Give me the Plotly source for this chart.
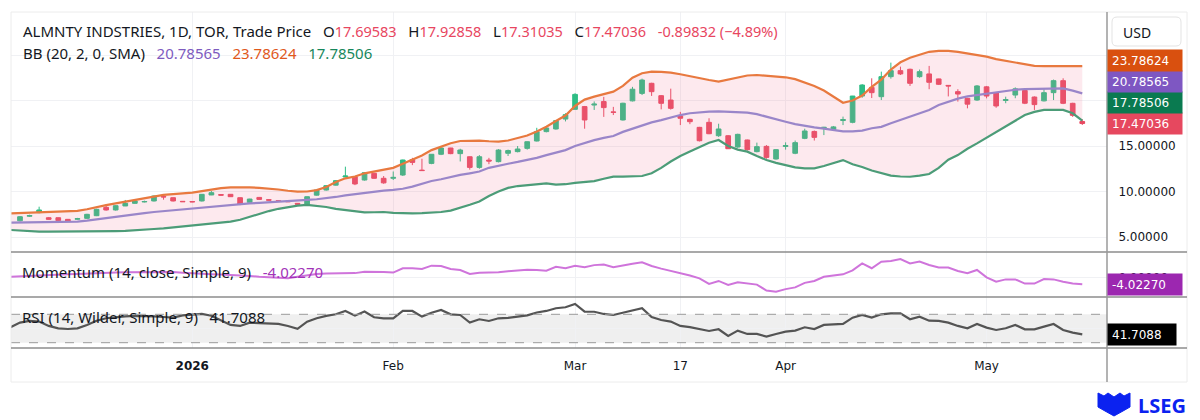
import plotly.graph_objects as go

# ---------------- data ----------------
def _days(ym, days):
    return [f"{ym}-{d:02d}" for d in days]

dates = (_days("2025-12", [3, 4, 5, 8, 9, 10, 11, 12, 15, 16, 17, 18, 19, 22, 23, 24, 29, 30, 31])
         + _days("2026-01", [2, 5, 6, 7, 8, 9, 12, 13, 14, 15, 16, 19, 20, 21, 22, 23, 26, 27, 28, 29, 30])
         + _days("2026-02", [2, 3, 4, 5, 6, 9, 10, 11, 12, 13, 17, 18, 19, 20, 23, 24, 25, 26, 27])
         + _days("2026-03", [2, 3, 4, 5, 6, 9, 10, 11, 12, 13, 16, 17, 18, 19, 20, 23, 24, 25, 26, 27, 30, 31])
         + _days("2026-04", [1, 2, 6, 7, 8, 9, 10, 13, 14, 15, 16, 17, 20, 21, 22, 23, 24, 27, 28, 29, 30])
         + _days("2026-05", [1, 4, 5, 6, 7, 8, 11, 12, 13, 14, 15]))

# candles start on 2025-12-04 (dates[1:])
opens = [6.78, 7.28, 7.68, 7.12, 7.12, 6.94, 6.95, 7.05, 7.34, 8.26, 7.97, 8.41, 8.70, 8.85, 8.96, 9.45, 9.32, 8.92, 8.90, 8.96,
         9.62, 9.66, 9.69, 9.32, 8.81, 9.35, 9.10, 8.98, 8.92, 8.70, 8.52, 9.60, 10.16, 10.70, 11.60, 11.63, 11.26, 12.00, 11.45, 11.45,
         11.81, 13.50, 12.35, 13.09, 14.09, 14.78, 14.16, 13.82, 12.65, 13.45, 13.28, 14.20, 14.38, 14.74, 15.55, 16.58, 16.87, 17.96, 19.03, 19.33,
         19.50, 19.88, 18.75, 17.86, 19.96, 20.78, 21.89, 20.53, 20.05, 18.30, 17.93, 17.05, 17.60, 16.13, 16.13, 14.89, 15.66, 14.38, 14.96, 13.57,
         14.95, 14.20, 15.84, 16.60, 16.95, 16.82, 17.80, 17.60, 20.49, 21.44, 20.42, 22.62, 23.28, 23.43, 22.62, 22.92, 22.37, 21.66, 20.97, 20.24,
         20.05, 21.50, 20.86, 20.00, 20.60, 21.10, 20.38, 19.96, 20.86, 22.18, 19.69, 17.69583]
highs = [7.30, 7.45, 8.33, 7.20, 7.15, 6.98, 7.10, 7.55, 8.10, 8.60, 8.50, 9.07, 9.00, 9.00, 9.55, 9.60, 9.35, 8.95, 8.95, 9.72,
         10.05, 9.70, 9.72, 9.35, 9.20, 9.40, 9.15, 9.00, 8.95, 8.72, 9.45, 10.20, 10.70, 11.25, 12.73, 11.65, 12.10, 12.05, 11.70, 12.20,
         13.50, 13.70, 13.60, 14.10, 14.85, 14.80, 14.70, 13.85, 14.00, 13.70, 14.65, 14.60, 15.00, 15.50, 17.00, 17.10, 17.85, 18.60, 20.80, 19.40,
         19.90, 20.40, 19.30, 19.75, 21.50, 22.40, 21.95, 20.60, 21.30, 18.75, 18.00, 17.10, 18.05, 17.45, 16.20, 16.35, 15.70, 15.37, 15.10, 14.65,
         15.40, 15.60, 16.90, 16.70, 17.10, 17.20, 18.23, 20.50, 21.80, 22.44, 23.17, 24.16, 23.72, 23.50, 23.40, 23.80, 22.40, 21.70, 21.24, 20.30,
         21.70, 21.60, 20.90, 20.42, 21.44, 21.20, 20.45, 21.24, 22.30, 22.44, 19.75, 17.92858]
lows = [6.70, 7.20, 7.60, 6.90, 6.75, 6.65, 6.90, 7.00, 7.30, 7.90, 7.90, 8.40, 8.65, 8.80, 8.90, 9.10, 8.90, 8.85, 8.82, 8.90,
        9.60, 9.55, 9.40, 8.50, 8.78, 9.10, 9.00, 8.90, 8.85, 8.55, 8.50, 9.55, 10.10, 10.65, 11.58, 10.70, 11.20, 11.40, 10.85, 11.26,
        11.70, 12.90, 12.28, 13.00, 14.00, 14.10, 13.30, 12.40, 12.50, 13.00, 13.20, 13.90, 14.30, 14.60, 15.50, 16.50, 16.80, 17.70, 19.00, 16.90,
        18.96, 18.20, 18.40, 17.80, 19.90, 20.60, 20.50, 19.03, 19.00, 17.30, 17.40, 15.50, 16.30, 16.00, 14.70, 14.80, 14.50, 14.30, 13.60, 13.50,
        14.60, 14.10, 15.75, 15.60, 16.20, 16.70, 17.30, 17.50, 20.30, 20.27, 20.05, 22.40, 22.80, 21.60, 22.50, 21.24, 21.70, 20.45, 19.88, 19.14,
        19.96, 20.24, 19.20, 19.70, 20.25, 19.60, 18.96, 19.90, 20.05, 19.60, 18.20, 17.31035]
closes = [7.23, 7.36, 7.97, 6.94, 6.80, 6.70, 7.02, 7.49, 8.04, 7.97, 8.44, 8.70, 8.96, 8.90, 9.50, 9.40, 8.96, 8.88, 8.86, 9.69,
          9.87, 9.60, 9.43, 8.59, 9.17, 9.13, 9.05, 8.94, 8.88, 8.60, 9.43, 10.16, 10.64, 11.19, 11.70, 10.83, 12.07, 11.45, 10.95, 11.55,
          13.46, 13.20, 12.30, 14.09, 14.78, 14.16, 14.56, 12.65, 13.82, 13.35, 14.56, 14.50, 14.67, 15.47, 16.57, 16.98, 17.78, 18.44, 20.67, 17.86,
          19.60, 19.22, 18.70, 19.70, 21.24, 22.25, 20.97, 19.69, 19.14, 18.05, 17.67, 15.58, 16.35, 16.87, 14.70, 16.28, 14.60, 14.93, 13.75, 14.60,
          15.05, 15.37, 16.65, 15.95, 17.05, 17.10, 17.90, 20.49, 21.70, 20.86, 22.62, 23.28, 22.92, 21.89, 23.17, 22.00, 21.78, 21.60, 20.71, 19.60,
          21.60, 20.49, 19.40, 20.10, 21.28, 19.70, 19.55, 20.86, 22.18, 19.69, 18.36868, 17.47036]

# Bollinger bands (20, 2) from 2025-12-03
bb_upper = [7.60, 7.65, 7.68, 7.70, 7.73, 7.77, 7.82, 7.88, 8.05, 8.30, 8.50, 8.70, 8.88, 9.07, 9.30, 9.50, 9.62, 9.72, 9.80, 9.87,
            10.05, 10.25, 10.38, 10.45, 10.47, 10.45, 10.40, 10.34, 10.22, 10.08, 9.98, 10.00, 10.15, 10.50, 11.05, 11.45, 11.65, 12.00, 12.20, 12.35,
            12.60, 13.05, 13.46, 13.95, 14.55, 14.95, 15.30, 15.55, 15.60, 15.59, 15.52, 15.48, 15.60, 15.85, 16.15, 16.60, 17.12, 17.75, 18.35, 19.40,
            20.10, 20.42, 20.70, 20.97, 21.60, 22.50, 23.00, 23.17, 23.15, 23.06, 22.88, 22.65, 22.44, 22.25, 22.07, 22.30, 22.55, 22.75, 22.80, 22.70,
            22.62, 22.55, 22.35, 22.00, 21.60, 21.10, 20.40, 19.75, 20.00, 20.55, 21.50, 22.30, 23.40, 24.20, 24.70, 25.00, 25.35, 25.45, 25.45, 25.35,
            25.20, 25.00, 24.82, 24.55, 24.35, 24.12, 23.95, 23.80, 23.78, 23.79, 23.79, 23.78, 23.78624]
bb_middle = [6.58, 6.60, 6.62, 6.63, 6.64, 6.65, 6.66, 6.69, 6.80, 6.95, 7.10, 7.25, 7.38, 7.50, 7.62, 7.75, 7.85, 7.95, 8.05, 8.13,
             8.25, 8.35, 8.45, 8.55, 8.63, 8.70, 8.75, 8.80, 8.86, 8.92, 9.00, 9.08, 9.15, 9.25, 9.40, 9.58, 9.72, 9.85, 9.98, 10.10,
             10.17, 10.30, 10.53, 10.85, 11.15, 11.35, 11.60, 11.82, 12.00, 12.20, 12.60, 12.85, 13.05, 13.25, 13.45, 13.70, 14.00, 14.30, 14.55, 15.00,
             15.35, 15.65, 15.90, 16.10, 16.55, 16.90, 17.25, 17.60, 17.85, 18.15, 18.40, 18.60, 18.70, 18.77, 18.80, 18.78, 18.72, 18.66, 18.50, 18.25,
             17.95, 17.67, 17.40, 17.20, 17.05, 16.90, 16.76, 16.60, 16.60, 16.69, 16.95, 17.10, 17.50, 17.85, 18.20, 18.60, 18.96, 19.50, 19.85, 20.20,
             20.45, 20.60, 20.75, 20.86, 21.05, 21.18, 21.26, 21.30, 21.34, 21.35, 21.34, 21.08, 20.78565]
bb_lower = [5.77, 5.70, 5.60, 5.59, 5.58, 5.58, 5.58, 5.59, 5.59, 5.59, 5.62, 5.65, 5.68, 5.72, 5.80, 5.88, 5.95, 6.05, 6.18, 6.30,
            6.40, 6.50, 6.60, 6.69, 6.90, 7.24, 7.55, 7.85, 8.10, 8.30, 8.45, 8.52, 8.45, 8.30, 8.10, 7.97, 7.85, 7.71, 7.72, 7.75,
            7.65, 7.60, 7.60, 7.62, 7.65, 7.75, 7.90, 8.20, 8.55, 8.90, 9.50, 10.00, 10.40, 10.60, 10.70, 10.85, 10.90, 10.75, 10.80, 10.95,
            11.05, 11.15, 11.40, 11.63, 11.63, 11.63, 11.70, 12.00, 12.60, 13.30, 13.90, 14.40, 14.90, 15.35, 15.66, 15.00, 14.60, 14.38, 13.90, 13.46,
            13.15, 12.91, 12.65, 12.55, 12.55, 12.80, 13.15, 13.45, 13.00, 12.70, 12.30, 12.00, 11.75, 11.65, 11.62, 11.75, 11.92, 12.60, 13.50, 14.00,
            14.70, 15.29, 15.90, 16.58, 17.20, 17.80, 18.40, 18.75, 18.96, 18.97, 18.96, 18.59, 17.78506]

momentum = [0.3, 0.6, 1.0, 1.3, 1.5, 1.7, 1.8, 1.9, 2.2, 2.4, 2.6, 2.8, 2.9, 3.0, 3.05, 3.1, 3.05, 3.0, 2.6, 2.2,
            2.0, 1.8, 1.6, 1.4, 1.3, 0.8, 0.35, 0.0, -0.3, -0.6, 0.3, 1.2, 1.9, 2.2, 2.3, 2.3, 2.4, 3.2, 3.2, 3.0,
            2.7, 5.2, 5.2, 4.8, 6.7, 6.5, 4.8, 4.2, 1.9, 2.6, 2.8, 2.85, 3.5, 3.9, 4.4, 4.2, 3.8, 6.0, 5.2, 6.6,
            5.8, 7.0, 7.4, 5.8, 7.0, 7.8, 8.6, 6.5, 5.0, 3.8, 2.6, 1.0, -0.6, -3.8, -2.1, -4.4, -2.9, -3.6, -4.2, -7.6,
            -8.3, -6.8, -5.8, -3.2, -2.1, 0.3, 1.0, 1.7, 4.0, 8.0, 5.2, 9.0, 9.4, 10.5, 8.0, 9.0, 7.1, 5.7, 5.6, 3.6,
            2.3, 4.2, 0.0, -2.5, -1.2, -1.2, -3.6, -3.6, -1.0, -1.2, -2.5, -3.6, -4.0227]
rsi = [51.7, 58.3, 60.6, 59.7, 53.6, 50.3, 49.3, 50.3, 55.0, 61.0, 64.4, 66.2, 67.2, 67.7, 67.7, 67.0, 66.2, 65.3, 68.5, 70.0,
       70.5, 68.0, 61.0, 55.0, 53.6, 58.3, 57.5, 57.0, 56.4, 53.5, 49.5, 59.7, 64.4, 67.7, 70.0, 74.7, 68.1, 73.8, 65.8, 64.4,
       64.4, 74.7, 74.7, 66.7, 72.3, 76.1, 70.0, 69.0, 58.3, 63.0, 60.6, 64.4, 65.0, 66.7, 68.5, 72.5, 74.7, 78.5, 79.9, 84.6,
       73.8, 73.6, 70.5, 69.0, 72.3, 75.5, 78.5, 66.0, 62.0, 59.7, 53.6, 52.0, 49.0, 46.5, 48.9, 39.5, 47.0, 42.3, 42.3, 38.5,
       42.3, 45.6, 47.0, 51.7, 49.3, 55.0, 55.7, 56.4, 65.3, 69.0, 65.3, 70.0, 71.4, 71.4, 63.0, 66.7, 61.0, 60.6, 58.3, 53.6,
       50.3, 56.4, 51.2, 47.9, 50.3, 55.0, 48.9, 48.9, 52.6, 56.4, 47.9, 44.2, 41.7088]

tick_dates = ["2026-01-02", "2026-02-02", "2026-03-02", "2026-03-17", "2026-04-01", "2026-05-01"]
tick_labels = ["<b>2026</b>", "Feb", "Mar", "17", "Apr", "May"]
price_ticks = [5, 10, 15, 20, 25]
price_tick_text = ["5.00000", "10.00000", "15.00000", "", ""]

# ---------------- helpers (pixel -> paper) ----------------
W, H = 1200, 420
L, R, T, B = 11, 1107, 12, 348
def px(x):
    return (x - L) / (R - L)
def py(y):
    return (B - y) / (B - T)

idx = list(range(len(dates)))
cidx = idx[1:]

UP, DOWN = "#2ebd85", "#e84a62"
C_UP_BAND, C_MID, C_LOW = "#e8793f", "#9a86c9", "#4c9c78"
FONT = "DejaVu Sans"
TFONT = "Noto Sans"
TSIZE = 15

fig = go.Figure()

# band fill
fig.add_trace(go.Scatter(x=idx, y=bb_lower, mode="lines", line=dict(width=0), hoverinfo="skip",
                         showlegend=False, xaxis="x3", yaxis="y"))
fig.add_trace(go.Scatter(x=idx, y=bb_upper, mode="lines", line=dict(width=0), fill="tonexty",
                         fillcolor="rgba(240,120,150,0.16)", hoverinfo="skip", showlegend=False,
                         xaxis="x3", yaxis="y"))
fig.add_trace(go.Scatter(x=idx, y=bb_middle, mode="lines", line=dict(color=C_MID, width=2.2),
                         showlegend=False, xaxis="x3", yaxis="y"))
fig.add_trace(go.Scatter(x=idx, y=bb_upper, mode="lines", line=dict(color=C_UP_BAND, width=2.2),
                         showlegend=False, xaxis="x3", yaxis="y"))
fig.add_trace(go.Scatter(x=idx, y=bb_lower, mode="lines", line=dict(color=C_LOW, width=2.2),
                         showlegend=False, xaxis="x3", yaxis="y"))
fig.add_trace(go.Candlestick(x=cidx, open=opens, high=highs, low=lows, close=closes,
                             increasing=dict(line=dict(color=UP, width=1), fillcolor=UP),
                             decreasing=dict(line=dict(color=DOWN, width=1), fillcolor=DOWN),
                             whiskerwidth=0, showlegend=False, xaxis="x3", yaxis="y"))
# momentum
fig.add_trace(go.Scatter(x=idx, y=momentum, mode="lines", line=dict(color="#cf74db", width=2),
                         showlegend=False, xaxis="x2", yaxis="y2"))
# RSI
fig.add_trace(go.Scatter(x=idx, y=rsi, mode="lines", line=dict(color="#545454", width=2.2),
                         showlegend=False, xaxis="x", yaxis="y3"))

tickvals = [dates.index(d) for d in tick_dates]
xr = [(L - 20) / 9.57 + 1, (R - 20) / 9.57 + 1]
grid = "#f0f1f4"
xcommon = dict(range=xr, showgrid=True, gridcolor=grid, gridwidth=1, zeroline=False,
               tickvals=tickvals, showline=False, fixedrange=True)

fig.update_layout(
    width=W, height=H, margin=dict(l=L, r=W - R, t=T, b=H - B),
    paper_bgcolor="white", plot_bgcolor="white", showlegend=False,
    font=dict(family=FONT, size=12, color="#131722"),
    xaxis=dict(**xcommon, anchor="y3", ticktext=tick_labels, showticklabels=True,
               tickfont=dict(family=FONT, size=12, color="#131722"), ticks="outside", ticklen=7,
               tickcolor="rgba(0,0,0,0)", rangeslider=dict(visible=False)),
    xaxis2=dict(**xcommon, anchor="y2", matches="x", showticklabels=False),
    xaxis3=dict(**xcommon, anchor="y", matches="x", showticklabels=False,
                rangeslider=dict(visible=False)),
    yaxis=dict(domain=[py(252), 1], range=[(282.5 - 252) / 9.1, (282.5 - 12) / 9.1], side="right",
               tickvals=price_ticks, ticktext=price_tick_text, showgrid=True, gridcolor=grid,
               zeroline=False, ticks="outside", ticklen=8, tickcolor="rgba(0,0,0,0)",
               tickfont=dict(family=FONT, size=12, color="#131722"), fixedrange=True),
    yaxis2=dict(domain=[py(297), py(252)], range=[(277.3 - 297) / 1.74, (277.3 - 252) / 1.74], side="right",
                tickvals=[0], ticktext=["0.00000"], showgrid=True, gridcolor=grid, zeroline=False,
                ticks="outside", ticklen=8, tickcolor="rgba(0,0,0,0)",
                tickfont=dict(family=FONT, size=12, color="#131722"), fixedrange=True),
    yaxis3=dict(domain=[0, py(297)], range=[70 - (348 - 314.3) / 0.71, 70 - (297 - 314.3) / 0.71], side="right",
                tickvals=[50], ticktext=["50.0000"], showgrid=True, gridcolor=grid, zeroline=False,
                ticks="outside", ticklen=8, tickcolor="rgba(0,0,0,0)",
                tickfont=dict(family=FONT, size=12, color="#131722"), fixedrange=True),
)

shapes = []
# RSI band and dashed levels
shapes.append(dict(type="rect", xref="x domain", yref="y3", x0=0, x1=1, y0=30, y1=70,
                   fillcolor="rgba(120,120,120,0.12)", line=dict(width=0), layer="below"))
for lv in (70, 30):
    shapes.append(dict(type="line", xref="x domain", yref="y3", x0=0, x1=1, y0=lv, y1=lv,
                       line=dict(color="#9a9a9a", width=1, dash="dash")))
# outer frame
shapes.append(dict(type="rect", xref="paper", yref="paper", x0=0, x1=px(1187), y0=py(382), y1=1,
                   line=dict(color="#ececec", width=1)))
# panel separators
for yy in (252, 297, 348):
    shapes.append(dict(type="line", xref="paper", yref="paper", x0=0, x1=px(1187), y0=py(yy), y1=py(yy),
                       line=dict(color="#8c8c8c", width=1.5)))
# price-axis divider
shapes.append(dict(type="line", xref="paper", yref="paper", x0=1, x1=1, y0=py(382), y1=1,
                   line=dict(color="#9a9a9a", width=1.5)))
# USD box (rounded)
x0, x1, y0, y1, r = px(1112), px(1181), py(46), py(17), 5
rx, ry = r / (R - L), r / (B - T)
shapes.append(dict(type="path", xref="paper", yref="paper",
                   path=(f"M {x0+rx},{y1} L {x1-rx},{y1} Q {x1},{y1} {x1},{y1-ry} L {x1},{y0+ry} "
                         f"Q {x1},{y0} {x1-rx},{y0} L {x0+rx},{y0} Q {x0},{y0} {x0},{y0+ry} "
                         f"L {x0},{y1-ry} Q {x0},{y1} {x0+rx},{y1} Z"),
                   line=dict(color="#e3e3e3", width=1), fillcolor="white"))
# LSEG emblem (simplified)
ex0, ex1, ey0, ey1 = px(1098), px(1130), py(416), py(393)
shapes.append(dict(type="path", xref="paper", yref="paper",
                   path=(f"M {ex0},{ey1} L {px(1104)},{py(396)} L {px(1108)},{ey1} L {px(1114)},{py(397)} "
                         f"L {px(1120)},{ey1} L {px(1124)},{py(396)} L {ex1},{ey1} L {ex1},{py(407)} "
                         f"L {px(1123)},{py(411)} L {px(1114)},{ey0} L {px(1105)},{py(411)} L {ex0},{py(407)} Z"),
                   line=dict(color="#0b22f0", width=1), fillcolor="#0b22f0"))
fig.update_layout(shapes=shapes)

RED_T = "#e8465f"
NB = "\u00a0"
G = NB * 3
def val(v, color, size=14.5):
    return f"<span style='color:{color};font-size:{size}px'>{v}</span>"

ann = []
chg = closes[-1] - closes[-2]
pct = abs(chg / closes[-2] * 100)
line1 = (f"ALMNTY INDSTRIES, 1D, TOR, Trade Price{G}O{val(f'{opens[-1]:.5f}', RED_T)}"
         f"{G}H{val(f'{highs[-1]:.5f}', RED_T)}"
         f"{G}L{val(f'{lows[-1]:.5f}', RED_T)}"
         f"{G}C{val(f'{closes[-1]:.5f}', RED_T)}"
         f"{G}{val(f'{chg:.5f} (\u2212{pct:.2f}%)', RED_T)}")
line2 = (f"BB (20, 2, 0, SMA){G}<span style='color:#7e5bbf'>{bb_middle[-1]:.5f}</span>"
         f"{G}<span style='color:#e0581c'>{bb_upper[-1]:.5f}</span>"
         f"{G}<span style='color:#17875c'>{bb_lower[-1]:.5f}</span>")
for txt, yy in ((line1, 31), (line2, 52.5)):
    ann.append(dict(xref="paper", yref="paper", x=px(21), y=py(yy), xanchor="left", yanchor="middle",
                    text=txt, showarrow=False, font=dict(family=TFONT, size=TSIZE, color="#131722")))
ann.append(dict(xref="paper", yref="paper", x=px(20), y=py(271.5), xanchor="left", yanchor="middle",
                text=f"Momentum (14, close, Simple, 9){G}<span style='color:#a233b8'>{momentum[-1]:.5f}</span>",
                showarrow=False, font=dict(family=TFONT, size=TSIZE, color="#131722")))
ann.append(dict(xref="paper", yref="paper", x=px(20), y=py(316.5), xanchor="left", yanchor="middle",
                text=f"RSI (14, Wilder, Simple, 9){G}{rsi[-1]:.4f}",
                showarrow=False, font=dict(family=TFONT, size=TSIZE, color="#131722")))
ann.append(dict(xref="paper", yref="paper", x=px(1121), y=py(32), xanchor="left", yanchor="middle",
                text="USD", showarrow=False, font=dict(family=TFONT, size=14, color="#131722")))

def price_label(v, yref, bg, shift, fmt):
    return dict(xref="paper", yref=yref, x=1, y=v, xanchor="left", yanchor="middle", yshift=shift,
                text=fmt.format(v), showarrow=False, bgcolor=bg, borderpad=4, width=66, height=13,
                align="left", font=dict(family=FONT, size=12, color="white"))

last = closes[-1]
ann.append(price_label(last, "y", "#e6485f", 0, "{:.5f}"))
ann.append(dict(price_label(last, "y", "#0a7a50", 21, "{:.5f}"), text=f"{bb_lower[-1]:.5f}"))
ann.append(dict(price_label(last, "y", "#7e57c2", 42, "{:.5f}"), text=f"{bb_middle[-1]:.5f}"))
ann.append(dict(price_label(last, "y", "#d9500f", 63, "{:.5f}"), text=f"{bb_upper[-1]:.5f}"))
ann.append(price_label(momentum[-1], "y2", "#9c27b0", 0, "{:.5f}"))
ann.append(dict(price_label(rsi[-1], "y3", "#000000", 0, "{:.4f}"), width=60))
ann.append(dict(xref="paper", yref="paper", x=px(1162), y=py(405), xanchor="center", yanchor="middle",
                text="<b>LSEG</b>", showarrow=False, font=dict(family=TFONT, size=20, color="#0b22f0")))
fig.update_layout(annotations=ann)

fig.write_html("out.html", config={"displayModeBar": False},
               post_script="document.body.style.margin='0px';document.body.style.overflow='hidden';")
